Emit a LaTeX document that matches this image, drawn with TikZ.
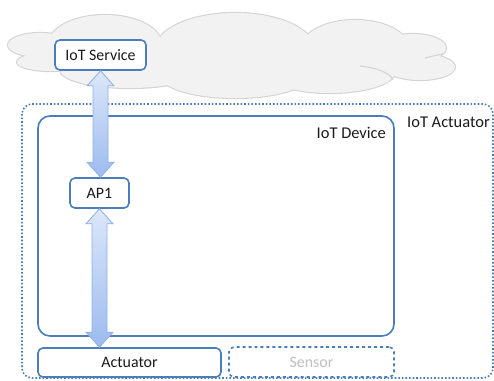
\documentclass[tikz,border=0pt]{standalone}
\usepackage{fontspec}
\setmainfont{Carlito}
\usetikzlibrary{calc}
\definecolor{boxblue}{HTML}{4A7EBB}
\definecolor{cloudfill}{HTML}{F2F2F2}
\definecolor{cloudline}{HTML}{D4D4D4}
\definecolor{arrline}{HTML}{8DAFE6}
\definecolor{arrtop}{HTML}{DCE7F9}
\definecolor{arrbot}{HTML}{9CBBEF}
\definecolor{txt}{HTML}{1A1A1A}
\definecolor{faint}{HTML}{BFBFBF}
\tikzset{
  box/.style={draw=boxblue, line width=1.6bp, rounded corners=5bp, fill=white, inner sep=0pt, text=txt, font=\fontsize{16}{18}\selectfont},
  fatarrow/.style={draw=arrline, line width=0.8bp, top color=arrtop, bottom color=arrbot, line join=miter},
  lbl/.style={text=txt, font=\fontsize{16.5}{18}\selectfont, inner sep=0pt},
}
\begin{document}
\begin{tikzpicture}[x=1bp,y=-1bp]
\useasboundingbox (0,0) rectangle (494,380);
% cloud
\foreach \cx/\cy/\rx/\ry in {40/45/32/12, 50/62/33/9, 105/45/57/30, 235/50/80/37, 355/50/55/30, 413/48/33/14, 420/67/35/13, 330/72/65/21, 235/75/75/23, 130/70/70/18}
  \draw[cloudline, line width=2.2bp] (\cx,\cy) ellipse [x radius=\rx bp, y radius=\ry bp];
\foreach \cx/\cy/\rx/\ry in {40/45/32/12, 50/62/33/9, 105/45/57/30, 235/50/80/37, 355/50/55/30, 413/48/33/14, 420/67/35/13, 330/72/65/21, 235/75/75/23, 130/70/70/18}
  \fill[cloudfill] (\cx,\cy) ellipse [x radius=\rx bp, y radius=\ry bp];
\draw[cloudline, line width=1.1bp] (360,66) .. controls (378,68) and (390,73) .. (393,80);
\draw[cloudline, line width=1.1bp] (425,58) .. controls (432,56) and (438,55) .. (443,54);
% outer dotted
\draw[boxblue, line width=1.6bp, dotted, rounded corners=10bp] (22,104) rectangle (493,378);
\node[lbl, anchor=west] (actlbl) at (407,122) {IoT Actuator};
% device
\draw[boxblue, line width=1.6bp, rounded corners=12bp] (38,116) rectangle (394,336);
\node[lbl, anchor=east] (devlbl) at (386,133) {IoT Device};
% nodes
\node[box, minimum width=91bp, minimum height=30bp] (svc) at (100.5,55) {IoT Service};
\node[box, minimum width=59bp, minimum height=30bp] (ap) at (99.5,193) {AP1};
\node[box, minimum width=183bp, minimum height=29bp] (act) at (129.5,362.5) {Actuator};
\node[box, dashed, minimum width=165bp, minimum height=30bp, text=faint] (sen) at (311.5,362) {Sensor};
\coordinate (actin) at (ap.south |- act.north);
% arrows
\path let \p1=(svc.south), \p2=(ap.north) in
  [fatarrow] (\x1,\y1) -- (\x1+13.5bp,\y1-15bp) -- (\x1+7.5bp,\y1-15bp) -- (\x1+7.5bp,\y2+15bp) -- (\x1+13.5bp,\y2+15bp) -- (\x1,\y2) -- (\x1-13.5bp,\y2+15bp) -- (\x1-7.5bp,\y2+15bp) -- (\x1-7.5bp,\y1-15bp) -- (\x1-13.5bp,\y1-15bp) -- cycle;
\path let \p1=(ap.south), \p2=(actin) in
  [fatarrow] (\x1,\y1) -- (\x1+13.5bp,\y1-15bp) -- (\x1+7.5bp,\y1-15bp) -- (\x1+7.5bp,\y2+15bp) -- (\x1+13.5bp,\y2+15bp) -- (\x1,\y2) -- (\x1-13.5bp,\y2+15bp) -- (\x1-7.5bp,\y2+15bp) -- (\x1-7.5bp,\y1-15bp) -- (\x1-13.5bp,\y1-15bp) -- cycle;
\end{tikzpicture}
\end{document}
